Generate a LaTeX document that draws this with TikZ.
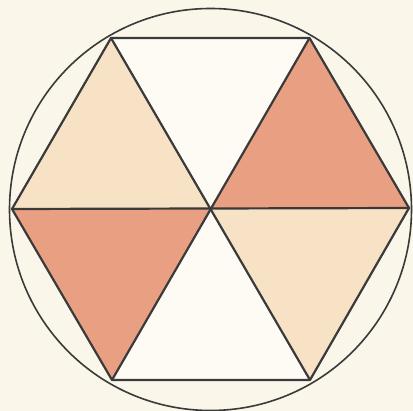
\documentclass[tikz,border=0pt]{standalone}
\definecolor{bg}{HTML}{FAF6EA}
\definecolor{whitetri}{HTML}{FDFBF4}
\definecolor{beige}{HTML}{F7E2C6}
\definecolor{salmon}{HTML}{E9A082}
\definecolor{ink}{HTML}{3A3A3A}
\begin{document}
\begin{tikzpicture}[x=1pt,y=-1pt,
  edge/.style={draw=ink,line width=2.2pt,line join=round},
  tri/.style={line width=0pt}]
\fill[bg] (0,0) rectangle (413,411);
\useasboundingbox (0,0) rectangle (413,411);
\coordinate (O) at (210.5,209);
\coordinate (L) at (12,209);
\coordinate (R) at (409,208);
\coordinate (TL) at (111,38);
\coordinate (TR) at (309.5,38);
\coordinate (BL) at (112,380);
\coordinate (BR) at (310,380);
\fill[whitetri] (TL) -- (TR) -- (O) -- cycle;
\fill[whitetri] (BL) -- (BR) -- (O) -- cycle;
\fill[beige] (TL) -- (O) -- (L) -- cycle;
\fill[salmon] (TR) -- (R) -- (O) -- cycle;
\fill[salmon] (L) -- (O) -- (BL) -- cycle;
\fill[beige] (O) -- (R) -- (BR) -- cycle;
\draw[ink,line width=1.6pt] (210.5,209.5) circle (201);
\draw[edge] (TL) -- (TR) -- (R) -- (BR) -- (BL) -- (L) -- cycle;
\draw[edge] (L) -- (R);
\draw[edge] (TL) -- (BR);
\draw[edge] (TR) -- (BL);
\end{tikzpicture}
\end{document}
